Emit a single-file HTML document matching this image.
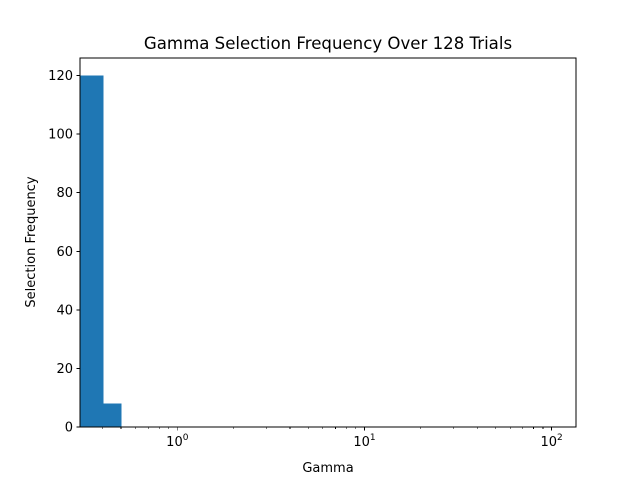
<!DOCTYPE html>
<html><head><meta charset="utf-8"><style>
body{margin:0;background:#fff;}
svg{display:block;font-family:"DejaVu Sans","Liberation Sans",sans-serif;}
</style></head><body>
<svg id="chart" width="640" height="480" viewBox="0 0 640 480">
<rect x="0" y="0" width="640" height="480" fill="#fff"/>
<text x="328" y="49" font-size="16.6" text-anchor="middle">Gamma Selection Frequency Over 128 Trials</text>
<g id="bars" shape-rendering="crispEdges"></g><g id="axes" shape-rendering="crispEdges"></g>
<text x="328" y="472" font-size="13" text-anchor="middle">Gamma</text>
<text transform="translate(35,242) rotate(-90)" font-size="13" text-anchor="middle">Selection Frequency</text>
</svg>
<script>
const binEdges=[0.3,0.4,0.5];
const counts=[120,8];
const yTicks=[0,20,40,60,80,100,120];
const xMajor=[1,10,100];
const xLabels=["0","1","2"];
const L=80,R=576,T=58,B=427;
const xMin=0.302,xMax=135,yMax=126;
const NS="http://www.w3.org/2000/svg";
function xs(v){return L+(Math.log10(v)-Math.log10(xMin))/(Math.log10(xMax)-Math.log10(xMin))*(R-L);}
function ys(v){return B-v/yMax*(B-T);}
function mk(t,a,p){const e=document.createElementNS(NS,t);for(const k in a)e.setAttribute(k,a[k]);p.appendChild(e);return e;}
const bars=document.getElementById('bars'),axes=document.getElementById('axes');
counts.forEach((c,i)=>{
 const x0=Math.max(L,xs(binEdges[i])),x1=xs(binEdges[i+1]);
 const r=mk('rect',{x:x0,y:ys(c),width:x1-x0+0.5,height:ys(0)-ys(c),fill:'#1f77b4'},bars);
 
 
});
const fr=mk('rect',{x:L,y:T,width:R-L,height:B-T,fill:'none',stroke:'#000','stroke-width':1},axes);


yTicks.forEach(v=>{
 const y=ys(v);
 mk('line',{x1:L-3.5,x2:L,y1:y,y2:y,stroke:'#000'},axes);
 const t=mk('text',{x:L-7,y:y+4.5,'font-size':13,'text-anchor':'end'},axes);
 t.textContent=v;
 
 
});
for(let d=-1;d<=2;d++){for(let m=1;m<10;m++){
 const v=m*Math.pow(10,d);if(v<xMin||v>xMax)continue;const x=xs(v);
 mk('line',{x1:x,x2:x,y1:B,y2:B+(m==1?3.5:2),stroke:'#000','stroke-width':m==1?0.8:0.6},axes);
}}
xMajor.forEach((v,i)=>{
 const x=xs(v);
 const t=mk('text',{x:x,y:B+19,'font-size':13,'text-anchor':'middle'},axes);
 t.textContent='10';
 const s=mk('tspan',{dy:-6,'font-size':9},t);s.textContent=xLabels[i];
 
 
});
</script>
</body></html>
